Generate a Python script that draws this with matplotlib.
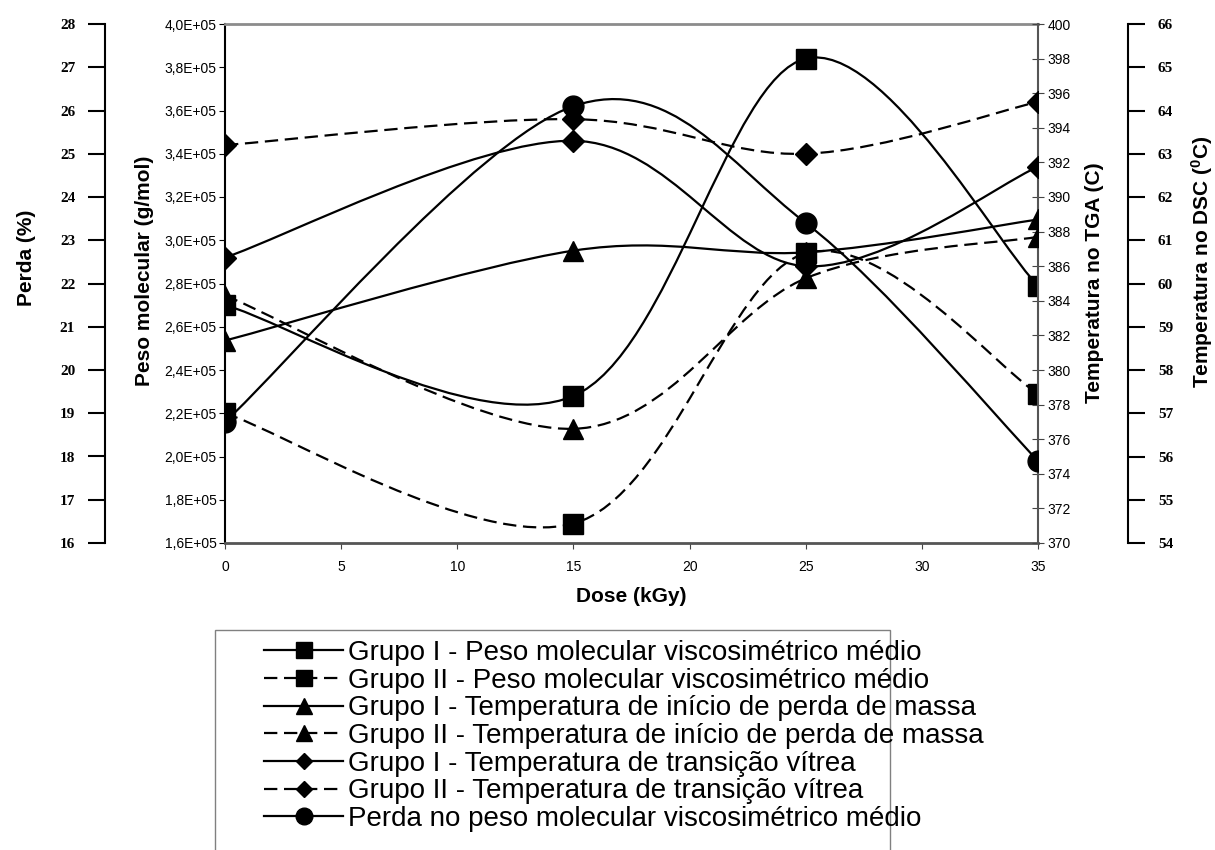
import numpy as np
import matplotlib.pyplot as plt
from matplotlib.path import Path
from matplotlib.patches import PathPatch, Rectangle
from matplotlib.lines import Line2D
from matplotlib.ticker import FuncFormatter

plt.rcParams['font.family'] = 'Liberation Sans'
plt.rcParams['mathtext.default'] = 'regular'

# dados
dose = [0, 15, 25, 35]
peso_g1 = [2.70e5, 2.28e5, 3.84e5, 2.79e5]
peso_g2 = [2.20e5, 1.69e5, 2.94e5, 2.29e5]
tga_g1 = [381.7, 386.9, 386.8, 388.7]
tga_g2 = [384.3, 376.6, 385.3, 387.7]
dsc_g1 = [60.6, 63.3, 60.4, 62.7]
dsc_g2 = [63.2, 63.8, 63.0, 64.2]
perda = [18.8, 26.1, 23.4, 17.9]

legendas = ['Grupo I - Peso molecular viscosimétrico médio',
            'Grupo II - Peso molecular viscosimétrico médio',
            'Grupo I - Temperatura de início de perda de massa',
            'Grupo II - Temperatura de início de perda de massa',
            'Grupo I - Temperatura de transição vítrea',
            'Grupo II - Temperatura de transição vítrea',
            'Perda no peso molecular viscosimétrico médio']

W, H = 1215, 850
TRACO = (0, (6, 3))


def curva(ax, x, y, ls, marker, ms):
    # linha suavizada estilo Excel (bezier)
    pts = np.column_stack([x, y]).astype(float)
    ext = np.vstack([pts[0], pts, pts[-1]])
    verts = [pts[0]]
    codes = [Path.MOVETO]
    for i in range(len(pts) - 1):
        p0, p1, p2, p3 = ext[i], ext[i + 1], ext[i + 2], ext[i + 3]
        verts += [p1 + (p2 - p0) / 6, p2 - (p3 - p1) / 6, p2]
        codes += [Path.CURVE4] * 3
    ax.add_patch(PathPatch(Path(verts, codes), fill=False, lw=1.6, ls=ls, ec='k', zorder=2))
    ax.plot(x, y, ls='none', marker=marker, ms=ms, color='k', zorder=3)


fig = plt.figure(figsize=(W / 100, H / 100), dpi=100)
ax = fig.add_axes([225 / W, 1 - 543 / H, 813 / W, 519 / H])

ax.set_xlim(0, 35)
ax.set_ylim(1.6e5, 4.0e5)
ax.set_xticks(range(0, 36, 5))
ax.set_yticks(np.arange(1.6e5, 4.01e5, 0.2e5))
ax.yaxis.set_major_formatter(FuncFormatter(lambda v, p: ('%.1f' % (v / 1e5)).replace('.', ',') + 'E+05'))
ax.tick_params(axis='x', direction='out', length=4, labelsize=10, pad=8, color='#444444')
ax.tick_params(axis='y', direction='out', length=4, labelsize=10, pad=2)
ax.spines['right'].set_visible(False)
ax.spines['left'].set_linewidth(1.5)
ax.spines['top'].set_color('#8c8c8c')
ax.spines['top'].set_linewidth(2)
ax.spines['bottom'].set_color('#555555')
ax.spines['bottom'].set_linewidth(2)

# eixo TGA
tga = ax.twinx()
tga.set_ylim(370, 400)
tga.set_yticks(range(370, 401, 2))
tga.tick_params(axis='y', direction='inout', length=8, labelsize=10, pad=3, color='#444444')
for s in ['left', 'top', 'bottom']:
    tga.spines[s].set_visible(False)
tga.spines['right'].set_color('#555555')
tga.spines['right'].set_linewidth(1.5)

# eixo DSC
dsc = ax.twinx()
dsc.set_ylim(54, 66)
dsc.set_yticks(range(54, 67))
dsc.spines['right'].set_position(('axes', 1.1107))
for s in ['left', 'top', 'bottom']:
    dsc.spines[s].set_visible(False)
dsc.spines['right'].set_linewidth(1.5)
dsc.tick_params(axis='y', direction='out', length=12.5, width=1.5, pad=9)

# eixo Perda
pe = ax.twinx()
pe.set_ylim(16, 28)
pe.set_yticks(range(16, 29))
pe.yaxis.tick_left()
pe.spines['left'].set_position(('axes', -0.1476))
for s in ['right', 'top', 'bottom']:
    pe.spines[s].set_visible(False)
pe.spines['left'].set_visible(True)
pe.spines['left'].set_linewidth(1.5)
pe.tick_params(axis='y', direction='out', length=12.5, width=1.5, pad=9)

for a in [dsc, pe]:
    for t in a.get_yticklabels():
        t.set_fontfamily('Liberation Serif')
        t.set_fontweight('bold')
        t.set_fontsize(11)

curva(ax, dose, peso_g1, '-', 's', 15)
curva(ax, dose, peso_g2, TRACO, 's', 15)
curva(tga, dose, tga_g1, '-', '^', 15)
curva(tga, dose, tga_g2, TRACO, '^', 15)
curva(dsc, dose, dsc_g1, '-', 'D', 11)
curva(dsc, dose, dsc_g2, TRACO, 'D', 11)
curva(pe, dose, perda, '-', 'o', 15)

# titulos dos eixos
fig.text(631.5 / W, 1 - 596 / H, 'Dose (kGy)', ha='center', va='center', fontsize=15, fontweight='bold')
fig.text(26 / W, 1 - 258 / H, 'Perda (%)', ha='center', va='center', rotation=90, fontsize=15, fontweight='bold')
fig.text(145 / W, 1 - 271 / H, 'Peso molecular (g/mol)', ha='center', va='center', rotation=90, fontsize=15, fontweight='bold')
fig.text(1095 / W, 1 - 283 / H, 'Temperatura no TGA (C)', ha='center', va='center', rotation=90, fontsize=15, fontweight='bold')
fig.text(1202 / W, 1 - 262 / H, 'Temperatura no DSC ($^{0}$C)', ha='center', va='center', rotation=90, fontsize=15, fontweight='bold')

# legenda
estilos = [('-', 's', 11), (TRACO, 's', 11), ('-', '^', 12), (TRACO, '^', 12),
           ('-', 'D', 8), (TRACO, 'D', 8), ('-', 'o', 12)]
handles = [Line2D([], [], color='k', lw=1.6, ls=ls, marker=m, ms=ms) for ls, m, ms in estilos]
fig.legend(handles, legendas, loc='upper left', bbox_to_anchor=(264 / W, 1 - 640 / H),
           frameon=False, fontsize=20, handlelength=2.85, handletextpad=0.17,
           labelspacing=0.06, borderpad=0, borderaxespad=0)
fig.patches.append(Rectangle((215 / W, -0.05), (890 - 215) / W, 0.05 + (850 - 630) / H,
                             transform=fig.transFigure, fill=False, ec='#808080', lw=1))

fig.savefig('out.png', dpi=100)
